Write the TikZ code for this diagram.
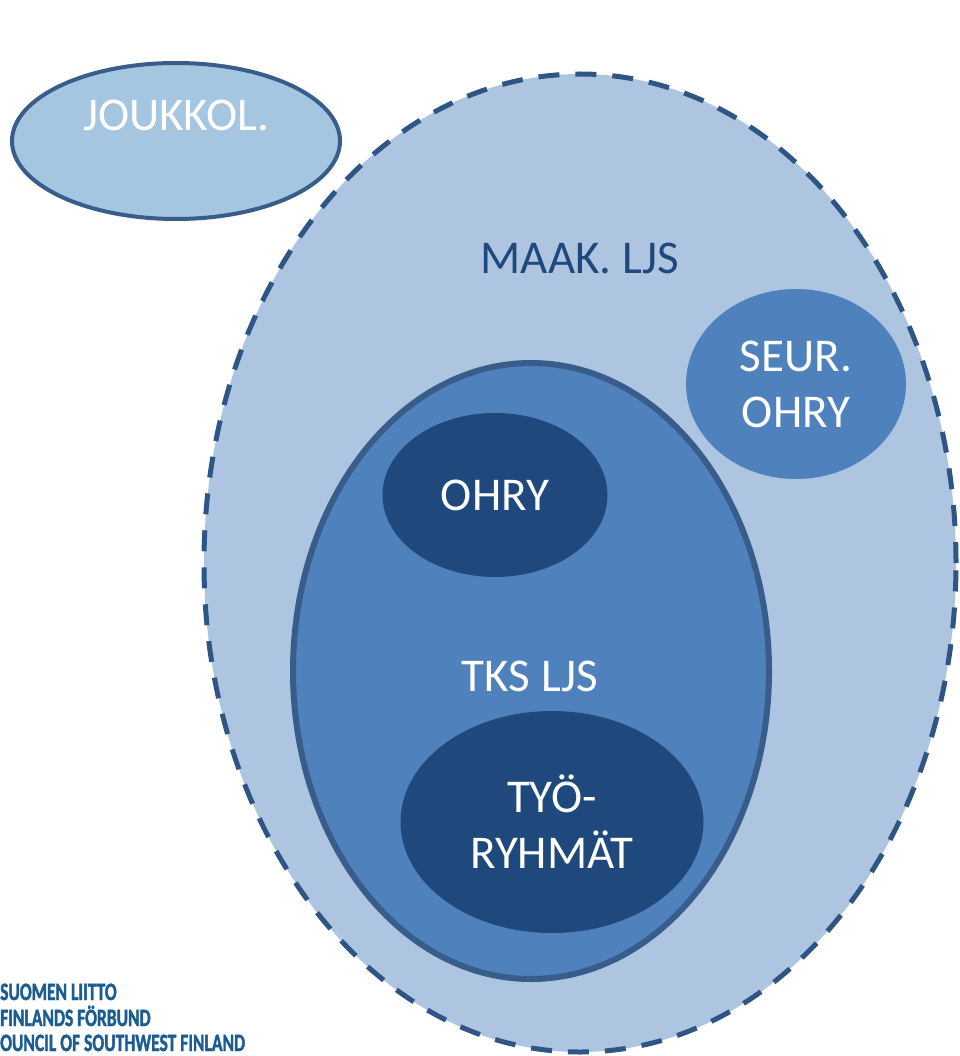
\documentclass[tikz,border=0pt]{standalone}
\usepackage{fontspec}
\setmainfont{Carlito}
\newfontfamily\logofont[FakeStretch=0.7,FakeBold=1.5]{Carlito}
\usepackage{tikz}
\usetikzlibrary{shapes,positioning}
\definecolor{vaalea}{RGB}{164,198,224}
\definecolor{maakpohja}{RGB}{173,197,224}
\definecolor{keski}{RGB}{79,129,189}
\definecolor{tumma}{RGB}{31,73,125}
\definecolor{reuna}{RGB}{56,93,138}
\definecolor{katko}{RGB}{47,85,132}
\definecolor{logosin}{RGB}{27,92,146}
\tikzstyle{pallo}=[ellipse, inner sep=0pt, outer sep=0pt,
                   text=white, align=center,
                   font=\fontsize{47}{56}\selectfont]
\tikzstyle{teksti}=[inner sep=0pt, align=center,
                    font=\fontsize{47}{56}\selectfont]
\tikzstyle{logo}=[inner sep=0pt, anchor=base west, text=logosin,
                  text height=16pt, text depth=0pt,
                  font=\logofont\bfseries\fontsize{25}{28}\selectfont]

\begin{document}
\begin{tikzpicture}[x=1pt,y=-1pt]
    \clip (0,0) rectangle (959,1056);
    \useasboundingbox (0,0) rectangle (959,1056);

    % maakunnallinen ryhma
    \node (maak) at (580,563) [pallo, fill=maakpohja, draw=katko,
        line width=5pt, dash pattern=on 21pt off 16pt,
        minimum width=752pt, minimum height=978pt] {};
    \node (maakteksti) at (580,258) [teksti, text=tumma] {MAAK. LJS};

    \node (joukkol) at (176,141) [pallo, fill=vaalea, draw=reuna,
        line width=4pt, minimum width=328pt, minimum height=156pt] {};
    \node (joukkolteksti) at (176,115) [teksti, text=white] {JOUKKOL.};

    \node (seur) at (796,384) [pallo, fill=keski,
        minimum width=220pt, minimum height=190pt] {SEUR.\\OHRY};

    % tks ja sen sisalla olevat
    \node (tks) at (531,671) [pallo, fill=keski, draw=reuna,
        line width=6pt, minimum width=476pt, minimum height=616pt] {};
    \node (tksteksti) at (530,676) [teksti, text=white] {TKS LJS};

    \node (ohry) at (495,495) [pallo, fill=tumma,
        minimum width=225pt, minimum height=164pt] {OHRY};
    \node (tyo) at (552,822) [pallo, fill=tumma,
        minimum width=303pt, minimum height=222pt] {TYÖ-\\RYHMÄT};

    % logo
    \node (logo1) at (0,1000) [logo] {SUOMEN LIITTO};
    \node (logo2) at (0,1026) [logo] {FINLANDS FÖRBUND};
    \node (logo3) at (0,1051) [logo] {OUNCIL OF SOUTHWEST FINLAND};
\end{tikzpicture}
\end{document}
